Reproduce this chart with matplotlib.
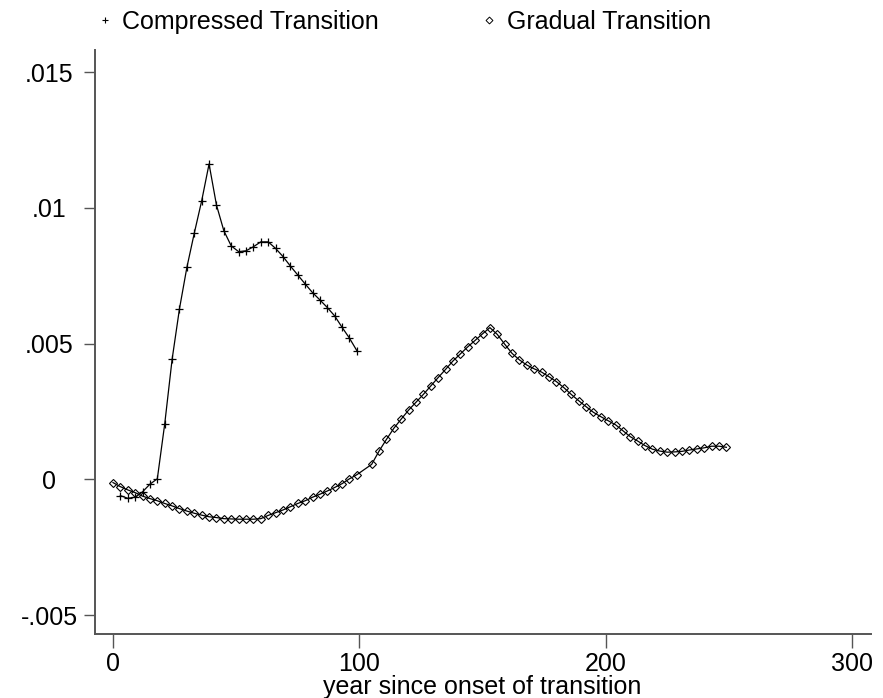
import numpy as np
import matplotlib
matplotlib.use("Agg")
import matplotlib.pyplot as plt
from matplotlib.lines import Line2D
from matplotlib.ticker import FixedLocator

plt.rcParams['font.family'] = ['Liberation Sans', 'DejaVu Sans']

# ---- data (values in units of 0.001) ----
compressed_x = list(range(3, 100, 3))
compressed_y = [-0.60, -0.70, -0.66, -0.46, -0.18, 0.02, 2.04, 4.42, 6.29, 7.81,
                9.07, 10.26, 11.62, 10.11, 9.16, 8.60, 8.39, 8.42, 8.57, 8.75,
                8.75, 8.51, 8.21, 7.86, 7.53, 7.20, 6.88, 6.61, 6.33, 6.02,
                5.60, 5.20, 4.74]

gradual_x = list(range(0, 100, 3)) + list(range(105, 250, 3))
gradual_y = [-0.12, -0.27, -0.39, -0.49, -0.62, -0.71, -0.79, -0.89, -0.98, -1.08,
             -1.17, -1.25, -1.32, -1.38, -1.41, -1.45, -1.46, -1.47, -1.47, -1.47,
             -1.45, -1.33, -1.23, -1.13, -1.01, -0.89, -0.79, -0.66, -0.55, -0.43,
             -0.30, -0.16, 0.02, 0.17,
             0.55, 1.04, 1.47, 1.88, 2.22, 2.55, 2.84, 3.13, 3.44, 3.75,
             4.05, 4.36, 4.62, 4.88, 5.12, 5.36, 5.59, 5.34, 4.98, 4.64,
             4.40, 4.21, 4.07, 3.95, 3.78, 3.60, 3.38, 3.13, 2.90, 2.68,
             2.47, 2.31, 2.16, 2.01, 1.79, 1.57, 1.41, 1.24, 1.11, 1.04,
             1.00, 1.01, 1.03, 1.08, 1.12, 1.16, 1.22, 1.22, 1.18]

x_ticks = [0, 100, 200, 300]
y_ticks = [-0.005, 0, 0.005, 0.01, 0.015]
y_tick_labels = ['-.005', '0', '.005', '.01', '.015']
series_labels = ['Compressed Transition', 'Gradual Transition']
x_title = 'year since onset of transition'

cy = np.array(compressed_y) * 1e-3
gy = np.array(gradual_y) * 1e-3

FS = 18
W, H = 883, 698
fig = plt.figure(figsize=(W / 100, H / 100), dpi=100)
L, R, B, T = 95, 871, 634, 50
ax = fig.add_axes([L / W, 1 - B / H, (R - L) / W, (B - T) / H])

ax.plot(compressed_x, cy, color='black', lw=0.9, marker='+', markersize=6.3,
        markeredgewidth=0.9)
ax.plot(gradual_x, gy, color='black', lw=0.9, marker='D', markersize=4.2,
        markeredgewidth=0.8, fillstyle='none')

ax.set_xlim(-7.3, 307.7)
ax.set_ylim(-0.0057, 0.01582)

for s in ['top', 'right']:
    ax.spines[s].set_visible(False)
for s in ['left', 'bottom']:
    ax.spines[s].set_color('#555555')
    ax.spines[s].set_linewidth(1.4)

ax.xaxis.set_major_locator(FixedLocator(x_ticks))
ax.set_xticklabels([str(v) for v in x_ticks])
ax.yaxis.set_major_locator(FixedLocator(y_ticks))
ax.set_yticklabels(y_tick_labels)
ax.tick_params(axis='x', direction='out', length=10, width=1.0, color='#555555',
               labelsize=FS, pad=3)
ax.tick_params(axis='y', direction='out', length=8, width=1.0, color='#555555',
               labelsize=FS, pad=25)
for lab in ax.get_yticklabels():
    lab.set_horizontalalignment('center')

ax.set_xlabel(x_title, fontsize=FS)
ax.xaxis.set_label_coords((482 - L) / (R - L), (B - 687) / (B - T))
ax.xaxis.label.set_verticalalignment('center')

handles = [Line2D([], [], color='black', linestyle='none', marker='+', markersize=5,
                  markeredgewidth=0.8),
           Line2D([], [], color='black', linestyle='none', marker='D', markersize=3.5,
                  markeredgewidth=0.7, fillstyle='none')]
fig.legend(handles, series_labels, loc='center left', bbox_to_anchor=(100 / W, 1 - 22 / H),
           ncol=2, frameon=False, fontsize=FS, handlelength=0.4, handletextpad=0.5,
           columnspacing=4.2, borderpad=0, borderaxespad=0)

fig.savefig('out.png', dpi=100)
